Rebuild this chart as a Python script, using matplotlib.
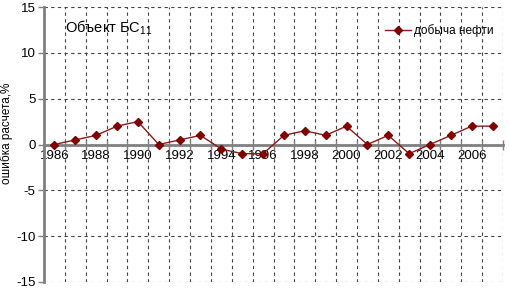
import matplotlib
matplotlib.use('Agg')
import matplotlib.pyplot as plt
import numpy as np

plt.rcParams['font.family'] = ['Liberation Sans', 'DejaVu Sans']
plt.rcParams['mathtext.fontset'] = 'custom'
plt.rcParams['mathtext.rm'] = 'Liberation Sans'
plt.rcParams['mathtext.it'] = 'Liberation Sans'

# data
years = list(range(1986, 2008))
oil_error = [0, 0.5, 1, 2, 2.5, 0, 0.5, 1, -0.5, -1, -1,
             1, 1.5, 1, 2, 0, 1, -1, 0, 1, 2, 2]
y_ticks = [-15, -10, -5, 0, 5, 10, 15]

fig = plt.figure(figsize=(5.10, 2.93), dpi=100)
ax = fig.add_axes([44 / 510, 11 / 293, 459 / 510, 275 / 293])

x = np.arange(len(years))
ax.plot(x, oil_error, color='#8B1A1A', lw=1.0, marker='D', ms=4,
        mfc='#800000', mec='#800000', label='добыча нефти', zorder=5)

ax.set_xlim(-0.5, len(years) - 0.5)
ax.set_ylim(-15, 15)

# y axis
ax.set_yticks(y_ticks)
ax.set_yticklabels([str(v) for v in y_ticks], fontsize=9.5)
ax.tick_params(axis='y', direction='out', length=4, width=1, color='#808080', pad=2)
ax.yaxis.grid(True, color='#444444', ls=(0, (3, 3)), lw=0.8)

# x axis on zero, labels on every 2nd category, ticks on boundaries
ax.spines['bottom'].set_position(('data', 0))
ax.spines['bottom'].set_color('#808080')
ax.spines['bottom'].set_linewidth(2)
ax.spines['left'].set_color('#808080')
ax.spines['left'].set_linewidth(2)
ax.spines['top'].set_visible(False)
ax.spines['right'].set_visible(False)

ax.set_xticks(x[::2])
ax.set_xticklabels([str(y) for y in years[::2]], fontsize=9.5)
ax.set_xticks(np.arange(len(years) + 1) - 0.5, minor=True)
ax.tick_params(axis='x', which='major', length=0, pad=4)
ax.tick_params(axis='x', which='minor', direction='inout', length=7, width=1, color='#808080')
ax.xaxis.grid(True, which='minor', color='#444444', ls=(0, (3, 3)), lw=0.8)
ax.set_axisbelow(True)

fig.text(7 / 510, 1 - 133 / 293, 'ошибка расчета,%', rotation=90,
         fontsize=8.5, ha='center', va='center')

ax.text(0.046, 0.925, 'Объект БС$_{11}$', transform=ax.transAxes,
        fontsize=10.5, va='center', ha='left')

ax.legend(loc='center right', bbox_to_anchor=(0.99, 0.915), frameon=False,
          fontsize=8.5, handlelength=2.2, handletextpad=0.3, borderaxespad=0)

fig.savefig('out.png', dpi=100)
